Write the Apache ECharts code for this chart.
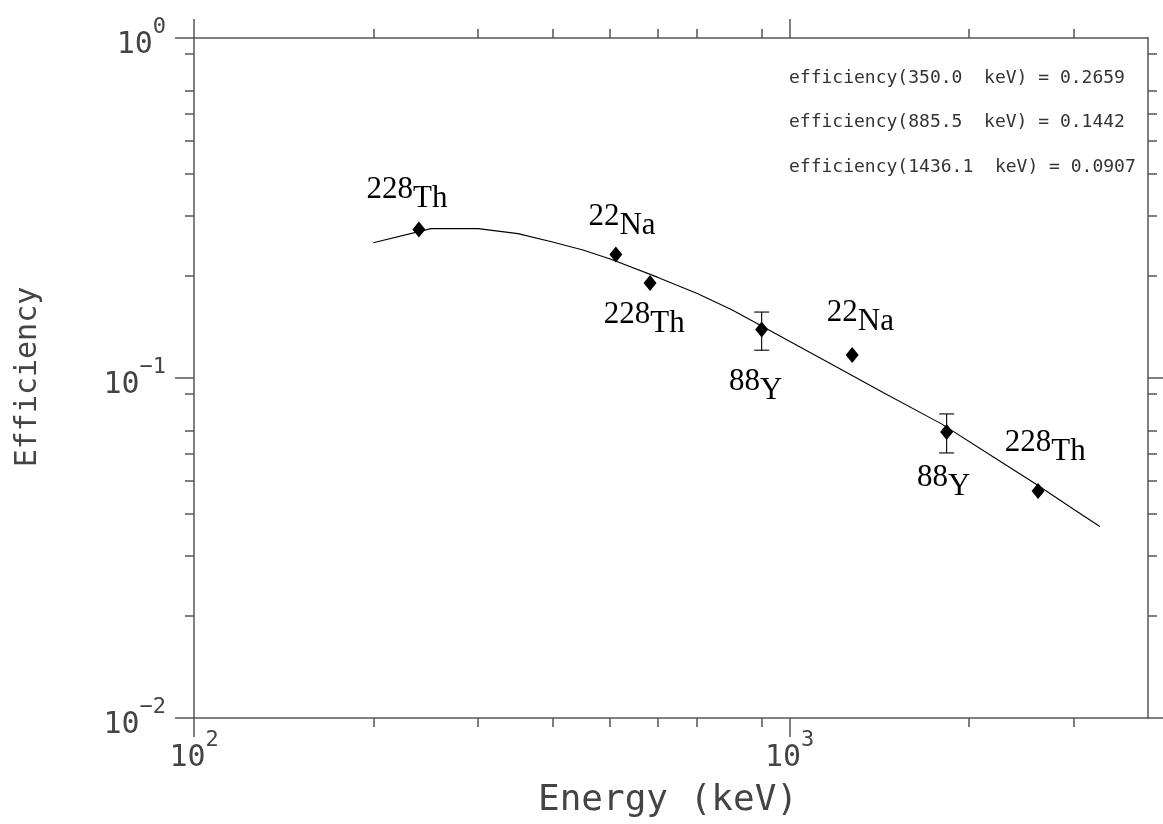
<!DOCTYPE html>
<html>
<head>
<meta charset="utf-8">
<script src="https://cdn.jsdelivr.net/npm/echarts@6/dist/echarts.min.js"></script>
<style>
html, body { margin: 0; padding: 0; background: #fff; }
#chart { width: 1163px; height: 824px; }
</style>
</head>
<body>
<div id="chart"></div>
<script>
// Calibration source lines: energy (keV) and measured full-energy-peak efficiency
const pointEnergy = [238.6, 511.0, 583.2, 898.0, 1274.5, 1836.1, 2614.5];
const pointEff    = [0.2732, 0.2307, 0.1903, 0.1388, 0.1168, 0.0694, 0.0465];
const pointMass   = ['228', '22', '228', '88', '22', '88', '228'];
const pointElem   = ['Th', 'Na', 'Th', 'Y', 'Na', 'Y', 'Th'];

// Uncertainty ranges on the 88Y lines
const errEnergy = [898.0, 1836.1];
const errLow    = [0.1207, 0.0602];
const errHigh   = [0.1563, 0.0784];

// Fitted efficiency curve
const curveEnergy = [200, 250, 300, 350, 400, 450, 500, 600, 700, 800, 885.5, 1000, 1200, 1436.1, 1800, 2200, 2600, 3000, 3320];
const curveEff    = [0.250, 0.275, 0.275, 0.2659, 0.2512, 0.2378, 0.2239, 0.198, 0.1772, 0.1588, 0.1442, 0.1283, 0.1077, 0.0907, 0.0733, 0.0586, 0.0486, 0.0411, 0.0366];

// Efficiencies quoted from the fit
const quoteEnergy = [350.0, 885.5, 1436.1];
const quoteEff    = [0.2659, 0.1442, 0.0907];

// Axis ticks
const xMajorTicks = [100, 1000];
const xMinorTicks = [200, 300, 400, 500, 600, 700, 900, 2000, 3000];
const yMajorTicks = [0.01, 0.1, 1];
const yMajorTicksRight = [0.01, 0.1];
const yMinorTicks = [0.02, 0.03, 0.04, 0.05, 0.06, 0.07, 0.09, 0.2, 0.3, 0.4, 0.5, 0.6, 0.7, 0.9];

// Label placement around each marker (px)
const labelOffsets = [[-12, -35], [6, -33], [-6, 36], [-6, 57], [8, -38], [-3, 50], [7, -44]];

const AXIS_COLOR = '#555';
const MONO = '"DejaVu Sans Mono", monospace';
const SERIF = '"Liberation Serif", "Times New Roman", serif';
const TEXT_COLOR = '#444';

const powerRich = {
  g: { fontSize: 1, lineHeight: 44 },
  b: { fontSize: 30, lineHeight: 30, verticalAlign: 'bottom', fontFamily: MONO, color: TEXT_COLOR },
  s: { fontSize: 22, lineHeight: 22, verticalAlign: 'top', fontFamily: MONO, color: TEXT_COLOR }
};
function powerLabel(v) {
  const e = Math.round(Math.log10(v));
  const exp = e < 0 ? '\u2212' + Math.abs(e) : String(e);
  return '{g| }{b|10}{s|' + exp + '}';
}

function makeAxis(kind, position, ticks, tickLen, showLine, labels) {
  const ax = {
    type: 'log',
    logBase: 10,
    position: position,
    min: kind === 'x' ? 100 : 0.01,
    max: kind === 'x' ? 4000 : 1,
    axisLine: { show: showLine, onZero: false, lineStyle: { color: AXIS_COLOR, width: 1.5 } },
    axisTick: { show: true, inside: false, length: tickLen, customValues: ticks,
                lineStyle: { color: AXIS_COLOR, width: 1.5 } },
    minorTick: { show: false },
    splitLine: { show: false },
    axisLabel: { show: false }
  };
  if (labels) {
    ax.axisLabel = {
      show: true,
      customValues: labels,
      formatter: powerLabel,
      rich: powerRich,
      margin: kind === 'x' ? 11 : 28
    };
  }
  return ax;
}

const chart = echarts.init(document.getElementById('chart'));

const scatterData = pointEnergy.map((e, i) => ({
  value: [e, pointEff[i]],
  label: {
    formatter: '{g| }{m|' + pointMass[i] + '}{e|' + pointElem[i] + '}',
    offset: labelOffsets[i]
  }
}));

chart.setOption({
  animation: false,
  backgroundColor: '#fff',
  grid: { left: 194, right: 15, top: 38, bottom: 106 },
  xAxis: [
    makeAxis('x', 'bottom', xMinorTicks, 9, true, xMajorTicks),
    makeAxis('x', 'bottom', xMajorTicks, 19, false, null),
    makeAxis('x', 'top', xMinorTicks, 9, true, null),
    makeAxis('x', 'top', xMajorTicks, 19, false, null)
  ],
  yAxis: [
    makeAxis('y', 'left', yMinorTicks, 9, true, yMajorTicks),
    makeAxis('y', 'left', yMajorTicks, 19, false, null),
    makeAxis('y', 'right', yMinorTicks, 9, true, null),
    makeAxis('y', 'right', yMajorTicksRight, 16, false, null)
  ],
  series: [
    {
      type: 'line',
      data: curveEnergy.map((e, i) => [e, curveEff[i]]),
      showSymbol: false,
      symbol: 'none',
      lineStyle: { color: '#000', width: 1.1 },
      silent: true,
      z: 2
    },
    {
      type: 'custom',
      data: errEnergy.map((e, i) => [e, errLow[i], errHigh[i]]),
      encode: { x: 0, y: [1, 2] },
      z: 3,
      renderItem: function (params, api) {
        const x = api.value(0);
        const lo = api.coord([x, api.value(1)]);
        const hi = api.coord([x, api.value(2)]);
        const hw = 7.5;
        const st = { stroke: '#000', lineWidth: 1.1 };
        return {
          type: 'group',
          children: [
            { type: 'line', shape: { x1: lo[0], y1: lo[1], x2: hi[0], y2: hi[1] }, style: st },
            { type: 'line', shape: { x1: lo[0] - hw, y1: lo[1], x2: lo[0] + hw, y2: lo[1] }, style: st },
            { type: 'line', shape: { x1: hi[0] - hw, y1: hi[1], x2: hi[0] + hw, y2: hi[1] }, style: st }
          ]
        };
      }
    },
    {
      type: 'scatter',
      data: scatterData,
      symbol: 'diamond',
      symbolSize: [13, 16],
      itemStyle: { color: '#000', opacity: 1 },
      z: 4,
      label: {
        show: true,
        position: 'inside',
        color: '#000',
        opacity: 1,
        rich: {
          g: { fontSize: 1, lineHeight: 40 },
          m: { fontSize: 31, lineHeight: 31, verticalAlign: 'top', fontFamily: SERIF, color: '#000' },
          e: { fontSize: 31, lineHeight: 31, verticalAlign: 'bottom', fontFamily: SERIF, color: '#000' }
        }
      }
    }
  ],
  graphic: [
    {
      type: 'text', x: 668, y: 801,
      style: { text: 'Energy (keV)', fontSize: 36, fontFamily: MONO, fill: TEXT_COLOR, align: 'center', verticalAlign: 'middle' }
    },
    {
      type: 'text', x: 28, y: 377, rotation: Math.PI / 2,
      style: { text: 'Efficiency', fontSize: 30, fontFamily: MONO, fill: TEXT_COLOR, align: 'center', verticalAlign: 'middle' }
    }
  ].concat(quoteEnergy.map((e, i) => ({
    type: 'text', x: 789, y: 78 + i * 44.5,
    style: {
      text: 'efficiency(' + e.toFixed(1) + '  keV) = ' + quoteEff[i].toFixed(4),
      fontSize: 18, fontFamily: MONO, fill: '#333', align: 'left', verticalAlign: 'middle'
    }
  })))
});
</script>
</body>
</html>
